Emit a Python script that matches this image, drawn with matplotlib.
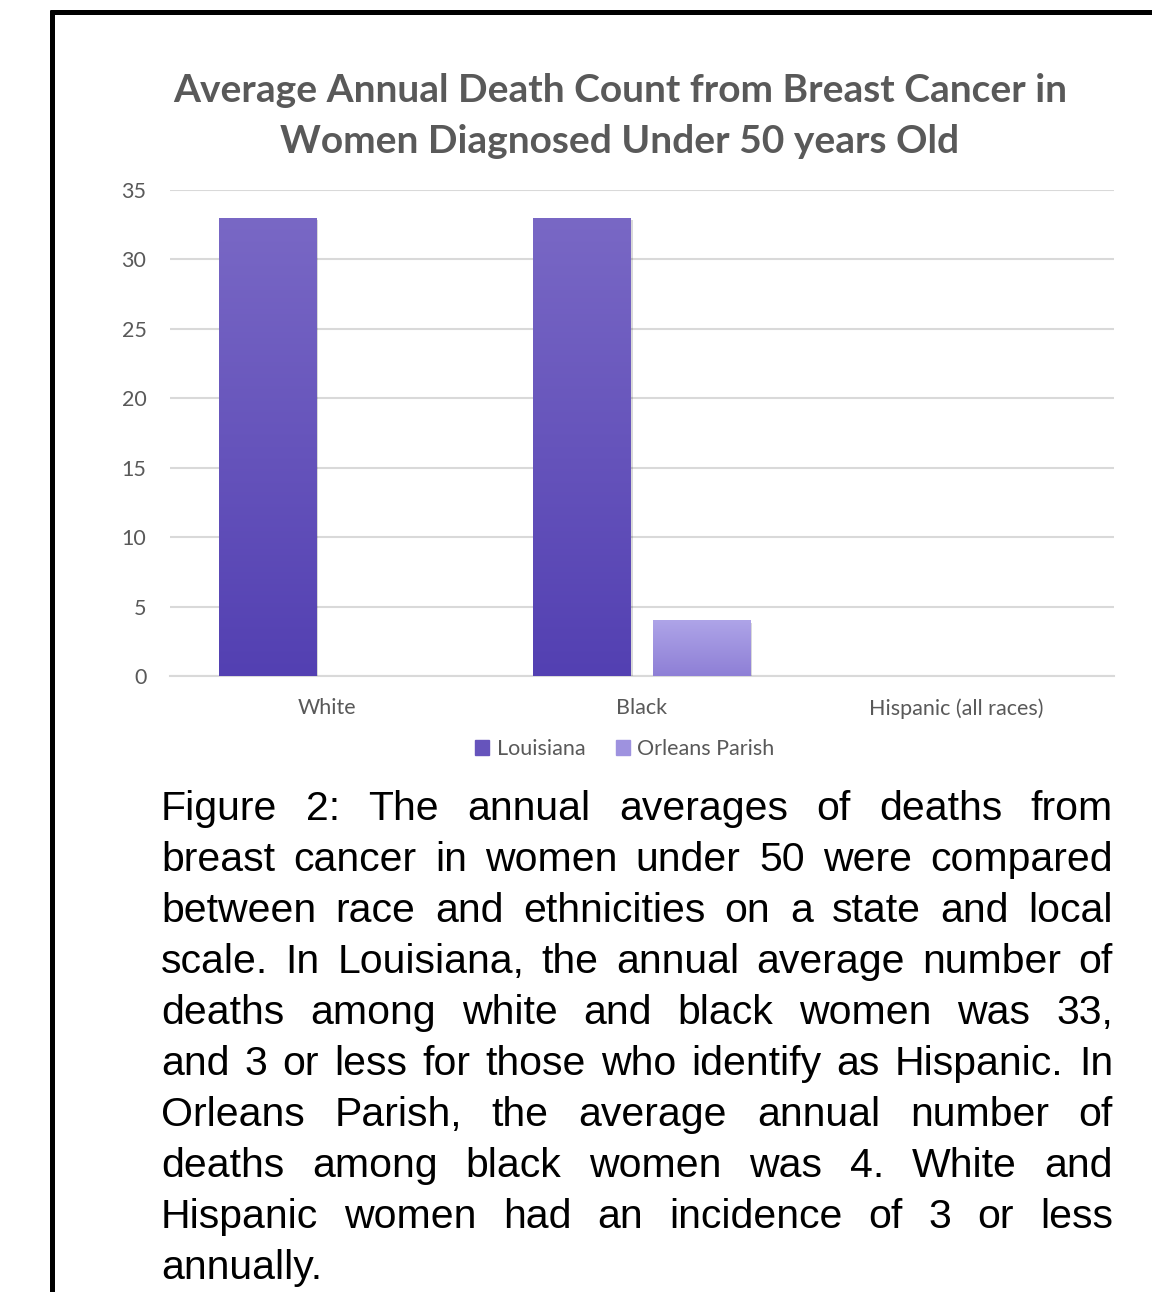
import numpy as np
import matplotlib
matplotlib.use('Agg')
from matplotlib import pyplot as plt
from matplotlib import patheffects as pe
from matplotlib.colors import LinearSegmentedColormap
from matplotlib.lines import Line2D

W, H, DPI = 1152, 1292, 100

categories = ['White', 'Black', 'Hispanic (all races)']
series_names = ['Louisiana', 'Orleans Parish']
louisiana = [33, 33, 0]
orleans = [0, 4, 0]

title = 'Average Annual Death Count from Breast Cancer in\nWomen Diagnosed Under 50 years Old'
caption_lines = [
  'Figure 2: The annual averages of deaths from',
  'breast cancer in women under 50 were compared',
  'between race and ethnicities on a state and local',
  'scale. In Louisiana, the annual average number of',
  'deaths among white and black women was 33,',
  'and 3 or less for those who identify as Hispanic. In',
  'Orleans Parish, the average annual number of',
  'deaths among black women was 4. White and',
  'Hispanic women had an incidence of 3 or less',
  'annually.',
]

GREY = '#595959'
GRID = '#D9D9D9'
COLORS = [('#5340B2', '#7968C5'), ('#8E7FD6', '#AEA4E8')]  # (bottom, top)
UIFONT = ['Lato', 'DejaVu Sans']

def px(x, y):
  return x / W, 1 - y / H

fig = plt.figure(figsize=(W / DPI, H / DPI), dpi=DPI)
ax = fig.add_axes([170 / W, 1 - 676 / H, (1114 - 170) / W, (676 - 190) / H])

x = np.arange(len(categories))
width = 0.311
offset = 0.19
shadow = [pe.SimplePatchShadow(offset=(1, -1.5), shadow_rgbFace='#000000', alpha=0.15), pe.Normal()]

legend_handles = []
for i, (vals, name) in enumerate(zip([louisiana, orleans], series_names)):
  bottom_c, top_c = COLORS[i]
  cmap = LinearSegmentedColormap.from_list(name, [bottom_c, top_c])
  bars = ax.bar(x + (2 * i - 1) * offset, vals, width, color=bottom_c, zorder=3, label=name)
  for b in bars:
    if b.get_height() <= 0:
      continue
    b.set_path_effects(shadow)
    x0, x1 = b.get_x(), b.get_x() + b.get_width()
    h = b.get_height()
    grad = np.linspace(0, 1, 256).reshape(-1, 1)
    im = ax.imshow(grad, cmap=cmap, extent=(x0, x1, 0, h), origin='lower',
                   aspect='auto', zorder=4, interpolation='bicubic')
    im.set_clip_path(b)
  legend_handles.append(plt.Rectangle((0, 0), 1, 1, color=cmap(0.5)))

ax.set_xlim(-0.5, 2.5)
ax.set_ylim(0, 35)
ax.set_yticks(range(0, 36, 5))
ax.set_xticks(x)
ax.set_xticklabels(categories)
ax.grid(axis='y', color=GRID, linewidth=1.5, zorder=0)
ax.set_axisbelow(True)
for s in ['top', 'right', 'left']:
  ax.spines[s].set_visible(False)
ax.spines['bottom'].set_color(GRID)
ax.spines['bottom'].set_linewidth(1.5)
ax.tick_params(length=0, colors=GREY, labelsize=15.5)
ax.tick_params(axis='y', pad=17)
ax.tick_params(axis='x', pad=16)
for lbl in ax.get_xticklabels() + ax.get_yticklabels():
  lbl.set_family(UIFONT)
  lbl.set_color(GREY)

fig.legend(legend_handles, series_names, loc='center', bbox_to_anchor=px(625, 749),
           ncol=2, frameon=False, handlelength=0.65, handleheight=0.65,
           handletextpad=0.35, columnspacing=1.4,
           prop={'family': UIFONT, 'size': 15.5}, labelcolor=GREY)

fig.text(*px(620, 116), title, ha='center', va='center', fontsize=28,
         fontweight='bold', color=GREY, family=UIFONT, linespacing=1.58)

# caption, justified line by line
cap_font = dict(fontsize=29.5, family=['Liberation Sans', 'DejaVu Sans'], color='black')
left, right = 161, 1113
renderer = fig.canvas.get_renderer()
for n, line in enumerate(caption_lines):
  y = 809 + n * 51
  words = line.split(' ')
  if n == len(caption_lines) - 1:
    fig.text(*px(left, y), line, ha='left', va='center', **cap_font)
    continue
  texts = [fig.text(0, 0, w, ha='left', va='center', **cap_font) for w in words]
  widths = [t.get_window_extent(renderer).width for t in texts]
  gap = (right - left - sum(widths)) / (len(words) - 1)
  cx = left
  for t, w in zip(texts, widths):
    t.set_position(px(cx, y))
    cx += w + gap

# page frame
fig.add_artist(Line2D([52 / W, 52 / W], [0, 1 - 10 / H], color='black', linewidth=3.6,
                      solid_capstyle='butt', transform=fig.transFigure))
fig.add_artist(Line2D([50 / W, 1], [1 - 12 / H, 1 - 12 / H], color='black', linewidth=3.6,
                      solid_capstyle='butt', transform=fig.transFigure))

fig.savefig('out.png', dpi=DPI)
